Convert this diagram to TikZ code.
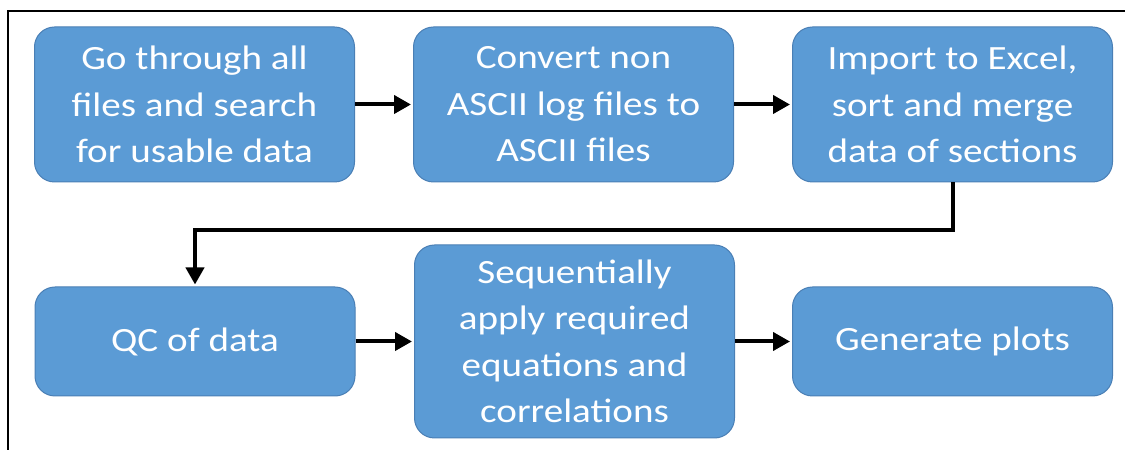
\documentclass[tikz,border=0pt]{standalone}
\usepackage{fontspec}
\setmainfont[FakeStretch=1.15]{Carlito}
\usetikzlibrary{arrows.meta}
\definecolor{boxfill}{HTML}{5B9BD5}
\definecolor{boxline}{HTML}{4A7FB5}
\tikzset{
  flowbox/.style={draw=boxline, line width=1pt, fill=boxfill, rounded corners=20pt,
    text=white, align=center, inner sep=0pt, minimum width=320pt,
    font=\fontsize{34}{46.5}\selectfont},
  flowarrow/.style={line width=4pt, -{Triangle[length=17pt,width=18pt]}, shorten >=2pt},
  frameline/.style={line width=2pt}
}
\begin{document}
\begin{tikzpicture}[x=1pt,y=1pt]
\useasboundingbox (0,0) rectangle (1125,450);
\draw[frameline] (7.5,0) -- (7.5,438.5) -- (1130,438.5);
\node[flowbox, minimum height=155pt] (b1) at (194.5,345.5) {Go through all\\files and search\\for usable data};
\node[flowbox, minimum height=155pt] (b2) at (573.5,345.5) {Convert non\\ASCII log files to\\ASCII files};
\node[flowbox, minimum height=155pt] (b3) at (952.5,345.5) {Import to Excel,\\sort and merge\\data of sections};
\node[flowbox, minimum height=109pt] (b4) at (195,108.5) {QC of data};
\node[flowbox, minimum height=193pt] (b5) at (574.5,108.5) {Sequentially\\apply required\\equations and\\correlations};
\node[flowbox, minimum height=109pt] (b6) at (952.5,108.5) {Generate plots};
\draw[flowarrow] (b1) -- (b2);
\draw[flowarrow] (b2) -- (b3);
\draw[flowarrow] (b4) -- (b5);
\draw[flowarrow] (b5) -- (b6);
\draw[flowarrow] (b3.south) -- ++(0,-48) -| (b4.north);
\end{tikzpicture}
\end{document}
